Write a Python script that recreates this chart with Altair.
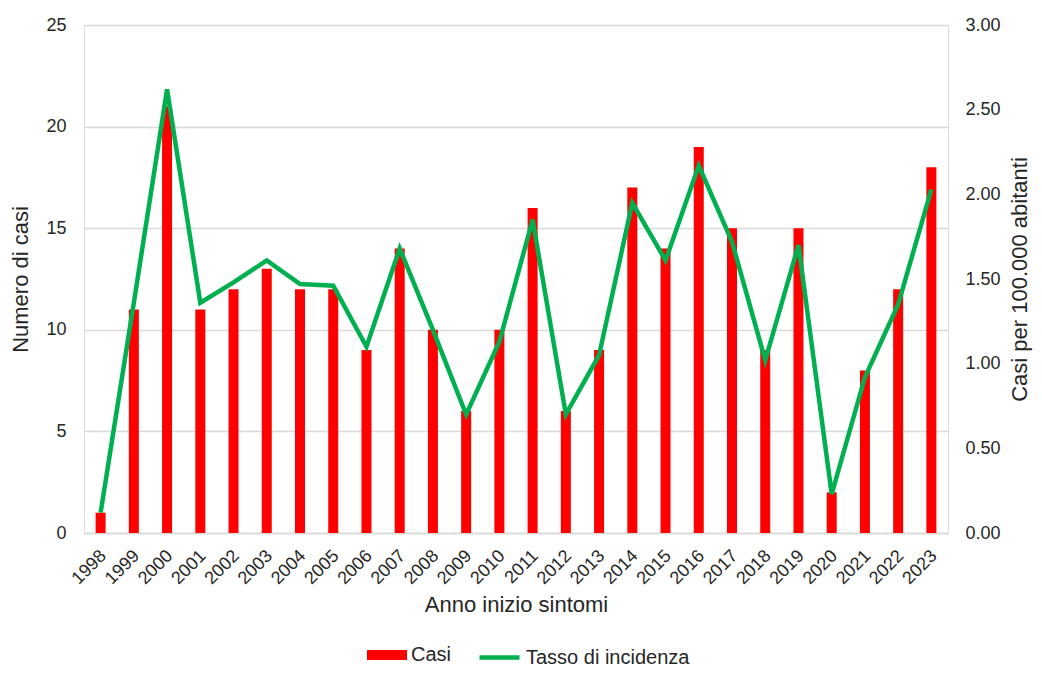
import altair as alt
import pandas as pd

anni = [str(y) for y in range(1998, 2024)]
casi = [1, 11, 21, 11, 12, 13, 12, 12, 9, 14, 10, 6, 10, 16, 6, 9, 17, 14, 19, 15, 9, 15, 2, 8, 12, 18]
tasso = [0.12, 1.36, 2.62, 1.36, 1.48, 1.61, 1.47, 1.46, 1.10, 1.68, 1.20, 0.70, 1.13,
         1.85, 0.70, 1.05, 1.95, 1.61, 2.17, 1.72, 1.02, 1.70, 0.23, 0.92, 1.35, 2.03]

df = pd.DataFrame({"anno": anni, "casi": casi, "tasso": tasso})

FONT = "Liberation Sans"
TXT = "#262626"

x_enc = alt.X(
    "anno:O",
    title="Anno inizio sintomi",
    scale=alt.Scale(paddingInner=0, paddingOuter=0),
    axis=alt.Axis(
        labelAngle=-45, labelAlign="right", labelBaseline="middle",
        labelPadding=20, labelOffset=3, ticks=False, domain=True, domainColor="#d9d9d9",
        domainWidth=1.5, labelFontSize=18, titleFontSize=22, titlePadding=7,
        labelColor=TXT, titleColor=TXT, labelFont=FONT, titleFont=FONT,
        titleFontWeight="normal",
    ),
)

bars = alt.Chart(df).transform_calculate(serie="'Casi'").mark_bar(size=10).encode(
    x=x_enc,
    y=alt.Y(
        "casi:Q", title="Numero di casi",
        scale=alt.Scale(domain=[0, 25], nice=False),
        axis=alt.Axis(
            values=[0, 5, 10, 15, 20, 25], grid=True, gridColor="#d9d9d9", gridWidth=1.5,
            domain=False, ticks=False, labelPadding=18, labelFontSize=18,
            titleFontSize=22, titlePadding=13, labelColor=TXT, titleColor=TXT,
            labelFont=FONT, titleFont=FONT, titleFontWeight="normal",
        ),
    ),
    color=alt.Color(
        "serie:N",
        scale=alt.Scale(domain=["Casi"], range=["#ff0000"]),
        legend=alt.Legend(
            title=None, orient="none", legendX=283, legendY=610,
            symbolType="M-1,-0.25H1V0.25H-1Z", symbolSize=1600, symbolOpacity=1,
            symbolStrokeWidth=0, labelFontSize=20, labelFont=FONT, labelColor=TXT,
            labelOffset=4, padding=0, labelLimit=400,
        ),
    ),
)

line = alt.Chart(df).transform_calculate(serie2="'Tasso di incidenza'").mark_line(strokeWidth=4.5).encode(
    x=alt.X("anno:O"),
    y=alt.Y(
        "tasso:Q", title="Casi per 100.000 abitanti",
        scale=alt.Scale(domain=[0, 3], nice=False),
        axis=alt.Axis(
            orient="right", values=[0, 0.5, 1, 1.5, 2, 2.5, 3], format=".2f",
            grid=False, domain=False, ticks=False, labelPadding=17, labelFontSize=18,
            titleFontSize=22, titlePadding=31, titleAngle=270, labelColor=TXT, titleColor=TXT,
            labelFont=FONT, titleFont=FONT, titleFontWeight="normal",
        ),
    ),
    stroke=alt.Stroke(
        "serie2:N",
        scale=alt.Scale(domain=["Tasso di incidenza"], range=["#00b050"]),
        legend=alt.Legend(
            title=None, orient="none", legendX=393, legendY=610,
            symbolType="stroke", symbolSize=1600, symbolStrokeWidth=4.5,
            labelFontSize=20, labelFont=FONT, labelColor=TXT, labelOffset=4, padding=0,
            labelLimit=400,
        ),
    ),
)

chart = alt.layer(bars, line).resolve_scale(
    y="independent", color="independent", stroke="independent"
).properties(
    width=864, height=508,
    autosize=alt.AutoSizeParams(type="none"),
    padding={"left": 76, "top": 17, "right": 86, "bottom": 134},
).configure_view(stroke=None).configure(font=FONT, background="white")

chart.save("out.html", embed_options={"renderer": "svg", "actions": False})
